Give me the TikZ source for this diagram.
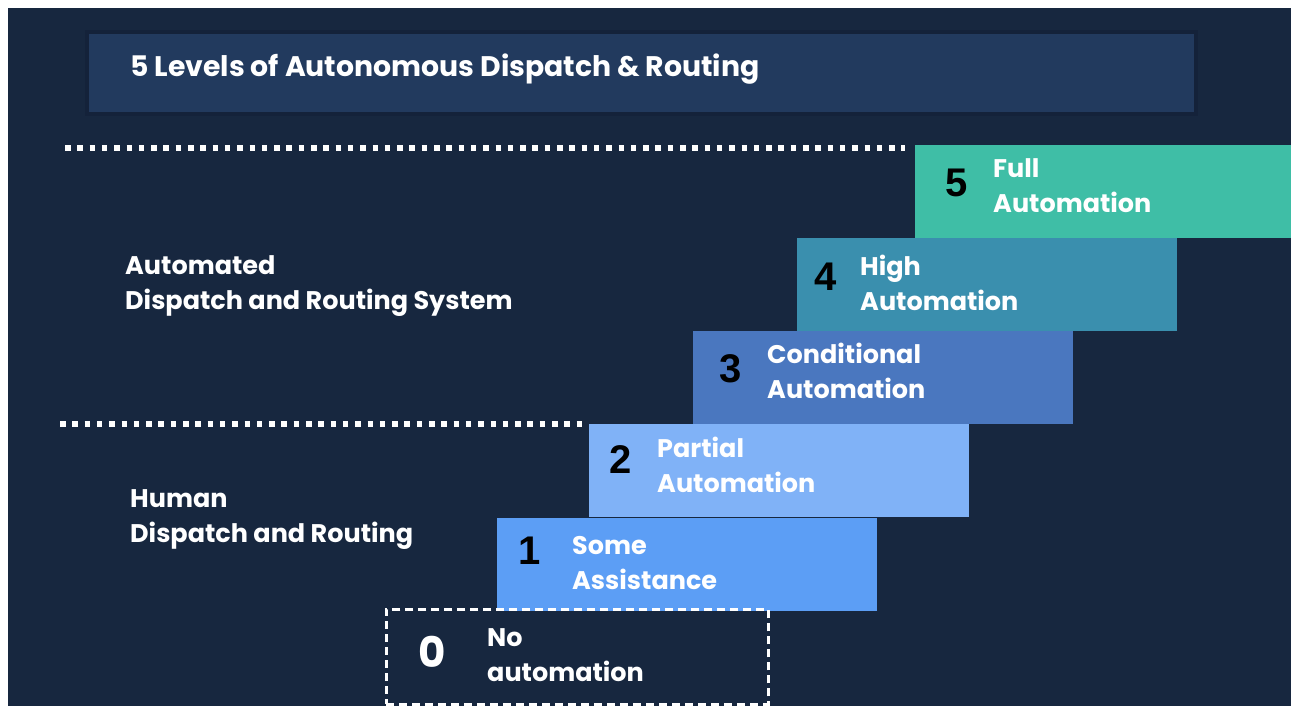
\documentclass[tikz,border=0pt]{standalone}
\usepackage{fontspec}
\setmainfont{Poppins}
\newfontfamily\digitfont{Liberation Sans}
\usetikzlibrary{positioning}

\definecolor{navy}{HTML}{17273F}
\definecolor{navyshade}{HTML}{14223A}
\definecolor{titlebar}{HTML}{223A5E}
\definecolor{lvlfive}{HTML}{3FBEA6}
\definecolor{lvlfour}{HTML}{3A8FAE}
\definecolor{lvlthree}{HTML}{4A77BF}
\definecolor{lvltwo}{HTML}{80B2F7}
\definecolor{lvlone}{HTML}{5C9EF5}

\tikzset{
  level/.style={draw=none, fill=#1, anchor=north west, inner sep=0pt,
    minimum width=380pt, minimum height=93pt},
  levelnum/.style={text=black, font=\digitfont\bfseries\fontsize{40}{40}\selectfont, inner sep=0pt},
  levelname/.style={text=white, anchor=west, align=left, inner sep=0pt,
    font=\bfseries\fontsize{25.5}{35}\selectfont},
  groupname/.style={levelname},
  divider/.style={white, line width=5.5pt, dash pattern=on 5.5pt off 6.8pt}
}

\begin{document}
\begin{tikzpicture}[x=1pt,y=-1pt]
	\useasboundingbox (0,0) rectangle (1291,706);
	\fill [white] (0,0) rectangle (1291,706);
	\fill [navy] (8,8) rectangle (1291,706);
	% title bar
	\fill [navyshade] (85,30) rectangle (1198,116);
	\node [fill=titlebar, anchor=north west, inner sep=0pt, minimum width=1105pt, minimum height=78pt] (titlebar) at (89,34) {};
	\node [levelname, font=\bfseries\fontsize{28.3}{32}\selectfont] (title) at (130,69) {5 Levels of Autonomous Dispatch \& Routing};
	% dividers between the two groups
	\coordinate (topa) at (65,148);
	\coordinate (topb) at (905,148);
	\coordinate (mida) at (60,424);
	\coordinate (midb) at (582,424);
	\draw [divider] (topa) -- (topb);
	\draw [divider] (mida) -- (midb);
	\node [groupname] (autogroup) at (125,286) {Automated\\Dispatch and Routing System};
	\node [groupname] (humangroup) at (130,520) {Human\\Dispatch and Routing};
	% the staircase
	\node [level=lvlfive] (lvl5) at (915,145) {};
	\node [level=lvlfour] (lvl4) at (797,238) {};
	\node [level=lvlthree] (lvl3) at (693,331) {};
	\node [level=lvltwo] (lvl2) at (589,424) {};
	\node [level=lvlone] (lvl1) at (497,518) {};
	\node [draw=white, line width=2.5pt, dash pattern=on 8pt off 5pt, anchor=north west, inner sep=0pt,
		minimum width=382pt, minimum height=95pt] (lvl0) at (385,608) {};
	\node [levelnum] (num5) at (957,183) {5};
	\node [levelname] (name5) at (993,186) {Full\\Automation};
	\node [levelnum] (num4) at (826,277) {4};
	\node [levelname] (name4) at (860,283) {High\\Automation};
	\node [levelnum] (num3) at (731,369) {3};
	\node [levelname] (name3) at (767,371) {Conditional\\Automation};
	\node [levelnum] (num2) at (621,460) {2};
	\node [levelname] (name2) at (657,465) {Partial\\Automation};
	\node [levelnum] (num1) at (530,551) {1};
	\node [levelname] (name1) at (572,563) {Some\\Assistance};
	\node [levelnum, text=white, font=\bfseries\fontsize{42}{42}\selectfont] (num0) at (432,652) {0};
	\node [levelname] (name0) at (487,655) {No\\automation};
\end{tikzpicture}
\end{document}
